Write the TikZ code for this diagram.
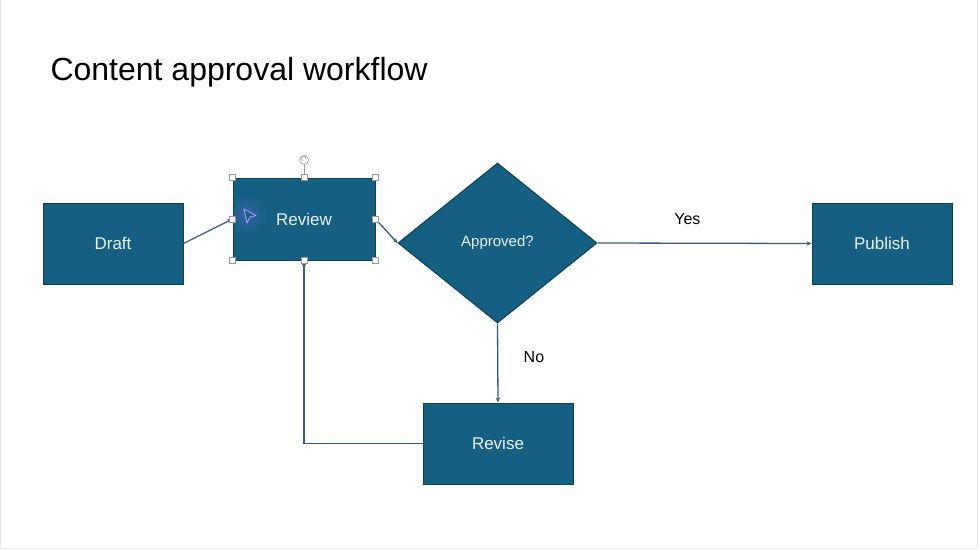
\documentclass[tikz,border=0pt]{standalone}
\usepackage{fontspec}
\setmainfont{Liberation Sans}
\usetikzlibrary{shapes.geometric,arrows.meta}
\definecolor{boxfill}{HTML}{156082}
\definecolor{boxline}{HTML}{0E3F57}
\definecolor{boxtext}{HTML}{E9F1F5}
\definecolor{conn}{HTML}{3B5F77}
\definecolor{handle}{HTML}{9A9A9A}
\definecolor{glow}{HTML}{7A6CF0}
\tikzset{
  stepbox/.style={rectangle, fill=boxfill, draw=boxline, line width=1pt,
    text=boxtext, font=\fontsize{17}{20}\selectfont, inner sep=0pt},
  decision/.style={diamond, fill=boxfill, draw=boxline, line width=1pt,
    text=boxtext, font=\fontsize{15}{18}\selectfont, inner sep=0pt,
    minimum width=199pt, minimum height=160pt},
  flow/.style={draw=conn, line width=1.3pt, -{Stealth[length=5pt,width=4.5pt]}},
  lbl/.style={font=\fontsize{16}{19}\selectfont, text=black},
  hnd/.style={rectangle, fill=white, draw=handle, line width=0.6pt,
    minimum size=6pt, inner sep=0pt},
}
\begin{document}
\begin{tikzpicture}[x=1pt,y=-1pt]
\useasboundingbox (0,0) rectangle (980,551);
\fill[white] (0,0) rectangle (980,551);
\draw[gray!18, line width=1pt] (0.5,0) -- (0.5,548.5) -- (977.5,548.5) -- (977.5,0);

\node[anchor=base west, font=\fontsize{32}{38}\selectfont] (title) at (47,81) {Content approval workflow};

\node[stepbox, minimum width=140pt, minimum height=81pt] (draft) at (113,243.5) {Draft};
\node[stepbox, minimum width=142pt, minimum height=82pt] (review) at (304,219) {Review};
\node[decision] (appr) at (497.5,243) {Approved?};
\node[stepbox, minimum width=140pt, minimum height=81pt] (publish) at (882,243.5) {Publish};
\node[stepbox, minimum width=150pt, minimum height=81pt] (revise) at (498,443.5) {Revise};

\draw[flow] (draft.east) -- (review.west);
\draw[flow] (review.east) -- (appr.west);
\draw[flow] (appr.east) -- node[lbl, above=15pt, pos=0.42] (yes) {Yes} (publish.west);
\draw[flow] (appr.south) -- node[lbl, right=22pt, pos=0.42] (no) {No} (revise.north);
\draw[flow] (revise.west) -| (review.south);

% selection handles
\coordinate (rot) at (304,160);
\draw[handle, line width=0.6pt] (review.north) -- (rot);
\node[circle, fill=white, draw=handle, line width=0.6pt, minimum size=9pt, inner sep=0pt] (roth) at (rot) {};
\draw[handle, line width=0.6pt] ([shift={(1.8,-0.6)}]rot) arc[start angle=-20, end angle=250, radius=2.2pt];
\foreach \a in {north west,north,north east,east,south east,south,south west,west}
  \node[hnd] at (review.\a) {};

% cursor with glow
\foreach \r/\o in {20/0.04,16/0.06,12/0.08,8/0.10}
  \fill[glow, opacity=\o] (247,215) circle[radius=\r pt];
\draw[glow!70!white, line width=1pt, line join=round, fill=boxfill]
  (244,209) -- (256,215.5) -- (250,217) -- (247,223) -- cycle;
\end{tikzpicture}
\end{document}
